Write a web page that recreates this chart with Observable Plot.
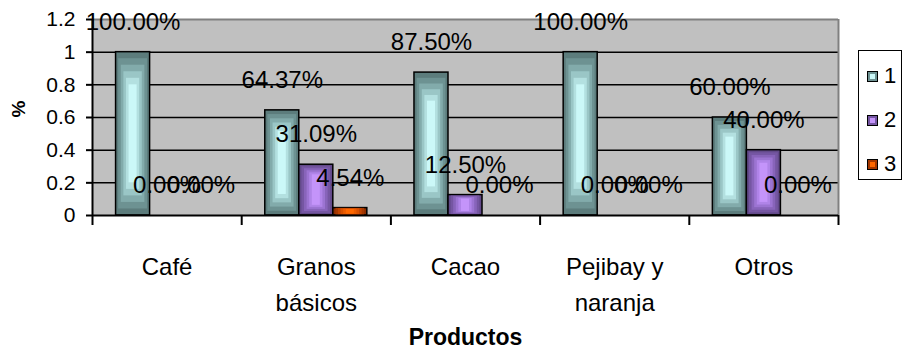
<!DOCTYPE html>
<html><head><meta charset="utf-8">
<script src="https://cdn.jsdelivr.net/npm/d3@7"></script>
<script src="https://cdn.jsdelivr.net/npm/@observablehq/plot@0.6"></script>
<style>
body{margin:0;background:#fff;font-family:"Liberation Sans",Arial,sans-serif;}
#wrap{position:relative;width:909px;height:358px;}
#legend{position:absolute;left:858px;top:50px;width:44px;height:130px;border:1.5px solid #000;background:#fff;box-sizing:border-box;}
.item{position:absolute;left:8px;height:26px;display:flex;align-items:center;font-size:22px;color:#000;}
.sw{width:9px;height:9px;border:1.2px solid #000;margin-right:6px;}
</style></head><body><div id="wrap"></div>
<script>
// ---- data ----
const categories = ["Café", "Granos\nbásicos", "Cacao", "Pejibay y\nnaranja", "Otros"];
const seriesNames = ["1", "2", "3"];
const series1 = [1.0, 0.6437, 0.875, 1.0, 0.6];
const series2 = [0.0, 0.3109, 0.125, 0.0, 0.4];
const series3 = [0.0, 0.0454, 0.0, 0.0, 0.0];
const yTicks = [0, 0.2, 0.4, 0.6, 0.8, 1, 1.2];
const yLabel = "%";
const xLabel = "Productos";

// ---- styles ----
const palettes = [
  ["#5c7c7c", "#6d9292", "#82abab", "#9ac6c6", "#b3e0e0", "#cbf8f8"],
  ["#634a8a", "#7556a2", "#8864ba", "#9c74d2", "#b084e8", "#c494fa"],
  ["#8c2e00", "#a63800", "#c04400", "#d85000", "#ec5c00", "#ff6800"]
];
const allSeries = [series1, series2, series3];
const rows = [];
allSeries.forEach((vals, s) => vals.forEach((v, i) => rows.push({i, s, v})));

const bw = 0.228;                       // bar width in category units
const off = (1 - bw * seriesNames.length) / 2;
const bx1 = d => d.i + off + d.s * bw;
const bx2 = d => d.i + off + (d.s + 1) * bw;
const bxc = d => d.i + off + (d.s + 0.5) * bw;

const marks = [
  Plot.frame({fill: "#c0c0c0"}),
  Plot.ruleY(yTicks.filter(d => d > 0 && d < d3.max(yTicks)), {stroke: "#000", strokeWidth: 1.5}),
  Plot.ruleY([d3.max(yTicks)], {stroke: "#808080", strokeWidth: 2}),
  Plot.ruleX([categories.length], {stroke: "#808080", strokeWidth: 2})
];
const layers = 6;
for (let k = 0; k < layers; k++) {
  const f = k * 0.04;
  allSeries.forEach((vals, s) => {
    marks.push(Plot.rectY(rows.filter(d => d.s === s && d.v > 0), {
      x1: bx1, x2: bx2,
      y1: d => d.v * f, y2: d => d.v * (1 - f),
      insetLeft: k * 2.6, insetRight: k * 2.6,
      fill: palettes[s][k],
      stroke: k === 0 ? "#000" : "none",
      strokeWidth: 1.5
    }));
  });
}
marks.push(
  Plot.ruleY([0], {stroke: "#000", strokeWidth: 2}),
  Plot.ruleX([0], {stroke: "#000", strokeWidth: 2}),
  Plot.axisX({ticks: d3.range(categories.length + 1), tickSize: 10, tickFormat: () => "", strokeWidth: 2, stroke: "#000"}),
  Plot.axisY({ticks: yTicks, tickSize: 6, tickPadding: 11, fontSize: 21, strokeWidth: 2,
    tickFormat: d => String(+d.toFixed(1)), label: null}),
  Plot.text(categories, {x: (d, i) => i + 0.5, y: () => 0, dy: 34, lineAnchor: "top",
    lineHeight: 1.5, fontSize: 24, fill: "#000"}),
  Plot.text([xLabel], {frameAnchor: "bottom", dy: 129, fontWeight: "bold", fontSize: 23, fill: "#000"}),
  Plot.text([yLabel], {frameAnchor: "left", dx: -74, rotate: -90, fontWeight: "bold", fontSize: 19, fill: "#000"}),
  Plot.text(rows, {x: bxc, y: "v", dy: -30, text: d => d3.format(".2%")(d.v), fontSize: 24, fill: "#000"})
);

const chart = Plot.plot({
  width: 909, height: 358,
  marginLeft: 92, marginRight: 71, marginTop: 19, marginBottom: 143,
  style: {fontFamily: "'Liberation Sans', Arial, sans-serif", background: "#fff", color: "#000", overflow: "visible"},
  x: {domain: [0, categories.length]},
  y: {domain: [0, d3.max(yTicks)]},
  marks
});
const wrap = document.getElementById("wrap");
wrap.appendChild(chart);

// legend
const legend = document.createElement("div");
legend.id = "legend";
seriesNames.forEach((name, s) => {
  const it = document.createElement("div");
  it.className = "item";
  it.style.top = (12 + s * 44) + "px";
  const sw = document.createElement("div");
  sw.className = "sw";
  sw.style.background = palettes[s][5];
  sw.style.boxShadow = `inset 0 0 0 2px ${palettes[s][1]}`;
  const t = document.createElement("span");
  t.textContent = name;
  it.appendChild(sw); it.appendChild(t);
  legend.appendChild(it);
});
wrap.appendChild(legend);
</script></body></html>
